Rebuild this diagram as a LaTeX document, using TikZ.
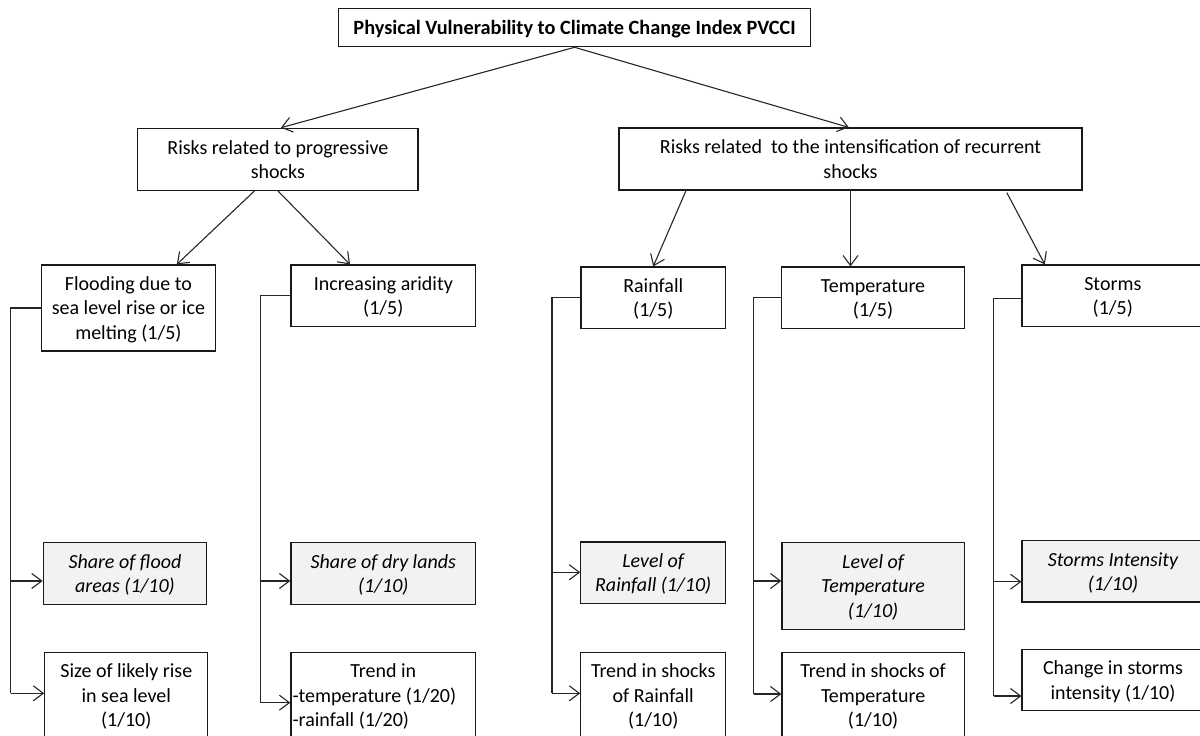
\documentclass[tikz,border=0pt]{standalone}
\usepackage{fontspec}
\setmainfont{Carlito}
\usetikzlibrary{arrows.meta,calc}
\begin{document}
\begin{tikzpicture}[x=1pt,y=-1pt,
  box/.style={draw=black!90, line width=1.2pt, inner sep=0pt, align=center, font=\fontsize{20}{24.4}\selectfont, text depth=-3pt},
  gbox/.style={box, fill=black!5, font=\fontsize{20}{24.4}\selectfont\itshape},
  arr/.style={draw=black!85, line width=1.1pt, -{Straight Barb[length=10pt,width=15pt,line width=1.1pt]}},
  ln/.style={draw=black!85, line width=1.1pt}]
\useasboundingbox (0,0) rectangle (1200,736);

\node[box, minimum width=471.8pt, minimum height=38.4pt, font=\fontsize{20.3}{24.4}\selectfont\bfseries, text depth=0pt] (title) at (574.6,27.5) {Physical Vulnerability to Climate Change Index PVCCI};

\node[box, minimum width=280.2pt, minimum height=62pt] (risk1) at (277.9,159.3) {Risks related to progressive\\shocks};
\node[box, minimum width=463pt, minimum height=62pt] (risk2) at (850.5,159) {Risks related\ \ to the intensification of recurrent\\shocks};

\node[box, minimum width=174.2pt, minimum height=86pt] (flood) at (128.4,308) {Flooding due to\\sea level rise or ice\\melting (1/5)};
\node[box, minimum width=184.8pt, minimum height=61.7pt] (arid) at (383.3,295.85) {Increasing aridity\\(1/5)};
\node[box, minimum width=144.5pt, minimum height=61.7pt] (rain) at (653.25,297.85) {Rainfall\\(1/5)};
\node[box, minimum width=182.5pt, minimum height=61.7pt] (temp) at (873.05,297.85) {Temperature\\(1/5)};
\node[box, minimum width=181.6pt, minimum height=61.7pt] (storms) at (1112.8,295.85) {Storms\\(1/5)};

\node[gbox, minimum width=163.5pt, minimum height=61.6pt] (share) at (124.95,573.5) {Share of flood\\areas (1/10)};
\node[box, minimum width=163pt, minimum height=86pt] (size) at (126.3,695.3) {Size of likely rise\\in sea level\\(1/10)};
\node[gbox, minimum width=184.8pt, minimum height=61.6pt] (dry) at (383.3,573.5) {Share of dry lands\\(1/10)};
\node[box, minimum width=184.8pt, minimum height=86pt] (trend) at (383.3,695.3) {Trend in\\\makebox[181.5pt][l]{-temperature (1/20)}\\\makebox[181.5pt][l]{-rainfall (1/20)}};
\node[gbox, minimum width=144.8pt, minimum height=61.3pt] (lvlrain) at (653.2,572.65) {Level of\\Rainfall (1/10)};
\node[box, minimum width=144.8pt, minimum height=86pt] (trendrain) at (653.2,695.3) {Trend in shocks\\of Rainfall\\(1/10)};
\node[gbox, minimum width=182.2pt, minimum height=86.6pt] (lvltemp) at (873.1,586) {Level of\\Temperature\\(1/10)};
\node[box, minimum width=182.2pt, minimum height=86pt] (trendtemp) at (873.1,695.3) {Trend in shocks of\\Temperature\\(1/10)};
\node[gbox, minimum width=182pt, minimum height=61.3pt] (stormint) at (1113,571.35) {Storms Intensity\\(1/10)};
\node[box, minimum width=182pt, minimum height=61.4pt] (change) at (1113,680) {Change in storms\\intensity (1/10)};

% top-level arrows
\draw[arr] (title.south) -- ($(risk1.north)+(3,0)$);
\draw[arr] (title.south) -- ($(risk2.north)+(-1.7,0)$);
\draw[arr] ($(risk1.south)+(-23.4,0)$) -- ($(flood.north)+(48.4,0)$);
\draw[arr] (risk1.south) -- ($(arid.north)+(-33.3,0)$);
\draw[arr] ($(risk2.south)+(-164.5,0)$) -- (rain.north);
\draw[arr] (risk2.south) -- (risk2.south |- temp.north);
\draw[arr] ($(risk2.south)+(156.3,2)$) -- ($(storms.north)+(-68,0)$);

% brackets
\coordinate (f1) at (10.7,581);
\coordinate (f2) at (10.7,693.3);
\draw[ln] (flood.west) -| (f2);
\draw[arr] (f1) -- (f1 -| share.west);
\draw[arr] (f2) -- (f2 -| size.west);

\coordinate (a1) at (260.2,581);
\coordinate (a2) at (260.2,702.7);
\draw[ln] (arid.west) -| (a2);
\draw[arr] (a1) -- (a1 -| dry.west);
\draw[arr] (a2) -- (a2 -| trend.west);

\coordinate (r1) at (552,572.3);
\coordinate (r2) at (552,693.3);
\draw[ln] (rain.west) -| (r2);
\draw[arr] (r1) -- (r1 -| lvlrain.west);
\draw[arr] (r2) -- (r2 -| trendrain.west);

\coordinate (t1) at (753.5,581);
\coordinate (t2) at (753.5,694);
\draw[ln] (temp.west) -| (t2);
\draw[arr] (t1) -- (t1 -| lvltemp.west);
\draw[arr] (t2) -- (t2 -| trendtemp.west);

\coordinate (s0) at ($(storms.west)+(0,3)$);
\coordinate (s1) at (993.5,581.7);
\coordinate (s2) at (993.5,696);
\draw[ln] (s0) -| (s2);
\draw[arr] (s1) -- (s1 -| stormint.west);
\draw[arr] (s2) -- (s2 -| change.west);
\end{tikzpicture}
\end{document}
